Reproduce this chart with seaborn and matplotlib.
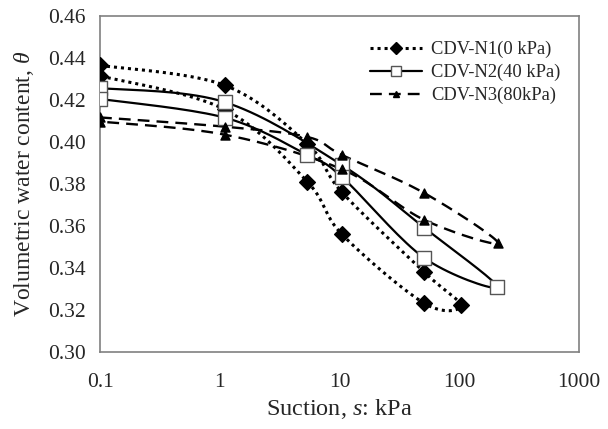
import numpy as np
import pandas as pd

import matplotlib
matplotlib.use('Agg')
import matplotlib.pyplot as plt
import matplotlib.lines as mlines
import seaborn as sns

# data: drying path then wetting path for each specimen
suction_n1 = [0.1, 1.1, 5.4, 10.5, 51, 103, 51, 10.5, 5.4, 1.1, 0.1]
theta_n1 = [0.4365, 0.4270, 0.3990, 0.3760, 0.3380, 0.3222, 0.3232, 0.3560, 0.3810, 0.4155, 0.4315]

suction_n2 = [0.1, 1.1, 10.5, 51, 208, 51, 10.5, 5.4, 1.1, 0.1]
theta_n2 = [0.4257, 0.4190, 0.3890, 0.3592, 0.3310, 0.3448, 0.3833, 0.3938, 0.4116, 0.4205]

suction_n3 = [0.1, 1.1, 5.4, 10.5, 51, 210, 51, 10.5, 1.1, 0.1]
theta_n3 = [0.4117, 0.4073, 0.4024, 0.3938, 0.3757, 0.3520, 0.3629, 0.3870, 0.4035, 0.4097]

labels = ["CDV-N1(0 kPa)", "CDV-N2(40 kPa)", "CDV-N3(80kPa)"]
x_ticks = [0.1, 1, 10, 100, 1000]
x_ticklabels = ["0.1", "1", "10", "100", "1000"]
y_ticks = [0.30, 0.32, 0.34, 0.36, 0.38, 0.40, 0.42, 0.44, 0.46]


def smooth(xs, ys, n = 20):
    # Excel-style smoothed line (Catmull-Rom) in log-x space
    lx = np.log10(xs)
    pts = np.column_stack([lx, ys])
    pts = np.vstack([pts[0], pts, pts[-1]])
    out = []
    t = np.linspace(0, 1, n)[:, None]
    for i in range(1, len(pts) - 2):
        p0, p1, p2, p3 = pts[i - 1], pts[i], pts[i + 1], pts[i + 2]
        seg = 0.5 * ((2 * p1) + (-p0 + p2) * t + (2 * p0 - 5 * p1 + 4 * p2 - p3) * t ** 2
                     + (-p0 + 3 * p1 - 3 * p2 + p3) * t ** 3)
        out.append(seg)
    out = np.vstack(out)
    return 10 ** out[:, 0], out[:, 1]


def main():
    sns.set_style('white')
    plt.rcParams['font.family'] = ['Liberation Serif', 'DejaVu Serif']
    plt.rcParams['mathtext.fontset'] = 'custom'
    plt.rcParams['mathtext.it'] = 'Liberation Serif:italic'
    plt.rcParams['mathtext.rm'] = 'Liberation Serif'

    fig = plt.figure(figsize = (6.08, 4.29), dpi = 100)
    ax = fig.add_axes([100 / 608, 1 - 352 / 429, 479 / 608, 336 / 429])

    series = [
        (suction_n1, theta_n1, (0, (1, 1.3)), 'D', 'black', 8, 2.2),
        (suction_n2, theta_n2, '-', 's', 'white', 9.5, 1.6),
        (suction_n3, theta_n3, (0, (5, 3)), '^', 'black', 6.5, 1.7),
    ]
    handles = []
    for (sx, sy, ls, mk, fc, ms, lw), lab in zip(series, labels):
        cx, cy = smooth(sx, sy)
        ax.plot(cx, cy, color = 'black', linestyle = ls, linewidth = lw, zorder = 2)
        df = pd.DataFrame({"suction": sx, "theta": sy})
        sns.scatterplot(data = df, x = "suction", y = "theta", marker = mk, s = ms ** 2,
                        color = fc, edgecolor = 'black' if fc == 'black' else '#555555',
                        linewidth = 1.0, ax = ax, zorder = 3)
        handles.append(mlines.Line2D([], [], color = 'black', linestyle = ls, linewidth = lw,
                                     marker = mk, markersize = ms * 0.8 if mk != '^' else 5,
                                     markerfacecolor = fc,
                                     markeredgecolor = 'black' if fc == 'black' else '#555555',
                                     label = lab))

    ax.set_xscale('log')
    ax.set_xlim(0.1, 1000)
    ax.set_ylim(0.30, 0.46)
    ax.set_xticks(x_ticks)
    ax.set_xticklabels(x_ticklabels)
    ax.minorticks_off()
    ax.set_yticks(y_ticks)
    ax.set_yticklabels(["%.2f" % v for v in y_ticks])
    ax.tick_params(axis = 'both', direction = 'out', length = 4, width = 1,
                   color = '#808080', labelsize = 15.5)
    ax.tick_params(axis = 'x', pad = 11)
    ax.tick_params(axis = 'y', pad = 6)
    for sp in ax.spines.values():
        sp.set_color('#808080')
        sp.set_linewidth(1.2)

    ax.set_xlabel("Suction, $s$: kPa", fontsize = 17.5, labelpad = 4)
    ax.set_ylabel(r"Volumetric water content, $\theta$", fontsize = 17, labelpad = 9)

    ax.legend(handles = handles, loc = 'upper left', bbox_to_anchor = (0.53, 0.975),
              frameon = False, fontsize = 13.3, handlelength = 2.8, labelspacing = 0.3,
              handletextpad = 0.5)

    plt.savefig("out.png", dpi = 100)
    plt.close()


if __name__ == '__main__':
    main()
